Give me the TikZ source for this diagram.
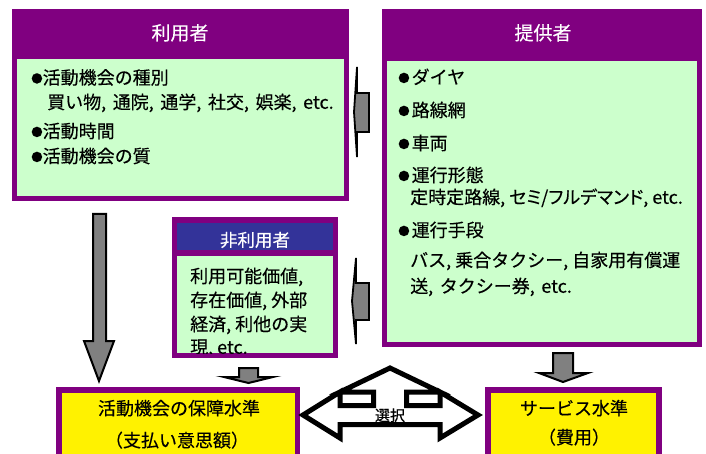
\documentclass[tikz,border=0pt]{standalone}
\usepackage{fontspec}
\setmainfont{Noto Sans CJK JP}[FakeBold=0.3]
\usetikzlibrary{fit}
\definecolor{purp}{RGB}{128,0,128}
\definecolor{lgreen}{RGB}{204,255,204}
\definecolor{hblue}{RGB}{51,51,153}
\definecolor{arrgray}{RGB}{128,128,128}
\newcommand{\bul}{\raisebox{1.5pt}{\fontsize{11.5}{11.5}\selectfont ●}}
\newcommand{\fsz}[1]{\fontsize{#1}{#1}\selectfont}
\newcommand{\csp}{\hspace{6.6pt}}
\tikzset{
  purplebox/.style={fill=purp, draw=none, inner sep=0pt, rectangle},
  greenbox/.style={fill=lgreen, draw=none, inner sep=0pt, rectangle},
  bluebox/.style={fill=hblue, draw=none, inner sep=0pt, rectangle},
  yellowbox/.style={fill=yellow, draw=none, inner sep=0pt, rectangle},
  headtxt/.style={text=white, inner sep=0pt, anchor=base, font=\fsz{19}},
  bodytxt/.style={text=black, inner sep=0pt, anchor=base west, font=\fsz{18}},
  ctrtxt/.style={text=black, inner sep=0pt, anchor=base, font=\fsz{18}},
  grayarrow/.style={fill=arrgray, draw=black, line width=2pt, line join=miter},
  selarrow/.style={fill=white, draw=black, line width=5pt, line join=miter}
}
\begin{document}
\begin{tikzpicture}[x=1pt,y=-1pt]
\useasboundingbox (0,0) rectangle (706,454);
\fill[white] (0,0) rectangle (706,454);

% --- 利用者 box
\node[purplebox, fit={(12,9) (349,201)}] (user) {};
\node[greenbox, fit={(17,59) (344,196)}] (userbody) {};
\node[headtxt] (userhead) at (180,40) {利用者};
\node[bodytxt] (u1) at (31,84.3) {\bul 活動機会の種別};
\node[bodytxt] (u2) at (47,108.8) {買い物,\csp 通院,\csp 通学,\csp 社交,\csp 娯楽,\csp etc.};
\node[bodytxt] (u3) at (31,137.8) {\bul 活動時間};
\node[bodytxt] (u4) at (31,162.8) {\bul 活動機会の質};

% --- 提供者 box
\node[purplebox, fit={(382,9) (702,347)}] (prov) {};
\node[greenbox, fit={(387,61) (697,342)}] (provbody) {};
\node[headtxt] (provhead) at (543,40) {提供者};
\node[bodytxt] (p1) at (398,83.8) {\bul\hspace{2pt}ダイヤ};
\node[bodytxt] (p2) at (398,116.8) {\bul\hspace{2pt}路線網};
\node[bodytxt] (p3) at (398,149.8) {\bul\hspace{2pt}車両};
\node[bodytxt] (p4) at (398,181.8) {\bul\hspace{2pt}運行形態};
\node[bodytxt] (p5) at (410,203.8) {\addfontfeature{RawFeature=+palt}定時定路線,\ セミ/フルデマンド,\ etc.};
\node[bodytxt] (p6) at (398,236.8) {\bul\hspace{2pt}運行手段};
\node[bodytxt] (p7) at (410,266.8) {バス,\ 乗合タクシー,\ 自家用有償運};
\node[bodytxt] (p8) at (410,292.8) {送,\csp タクシー券,\csp etc.};

% --- 非利用者 box
\node[purplebox, fit={(172,217) (338,358)}] (nonuser) {};
\node[bluebox, fit={(177,223) (333,250)}] (nonhead) {};
\node[greenbox, fit={(177,256) (333,353)}] (nonbody) {};
\node[headtxt, font=\fsz{17.5}] (nonheadtxt) at (255,246.5) {非利用者};
\begin{scope}
\clip (177,256) rectangle (333,353);
\node[bodytxt] (n1) at (190,282.8) {利用可能価値,};
\node[bodytxt] (n2) at (190,306.8) {存在価値,\ 外部};
\node[bodytxt] (n3) at (190,330.8) {経済,\ 利他の実};
\node[bodytxt] (n4) at (190,353.8) {現,\ etc.};
\end{scope}

% --- bottom boxes
\node[purplebox, fit={(56,387) (300,460)}] (wtp) {};
\node[yellowbox, fit={(62,393) (295,460)}] (wtpin) {};
\node[ctrtxt] (w1) at (179,415) {活動機会の保障水準};
\node[ctrtxt] (w2) at (177,447) {（支払い意思額）};

\node[purplebox, fit={(485,387) (662,460)}] (svc) {};
\node[yellowbox, fit={(491,393) (656,460)}] (svcin) {};
\node[ctrtxt] (s1) at (574,415) {サービス水準};
\node[ctrtxt] (s2) at (574,444) {（費用）};

% --- gray block arrows
\draw[grayarrow] (93,214) -- (106,214) -- (106,341) -- (114,341) -- (99,381) -- (84,341) -- (93,341) -- cycle;
\draw[grayarrow] (239,368) -- (258,368) -- (258,377) -- (273,377) -- (248.5,383) -- (224,377) -- (239,377) -- cycle;
\draw[grayarrow] (553,353) -- (573,353) -- (573,373) -- (588,373) -- (563,382) -- (539,373) -- (553,373) -- cycle;
\draw[grayarrow, line width=1.8pt] (354,112) -- (357,67) -- (357,93) -- (369,93) -- (369,132) -- (357,132) -- (357,157) -- cycle;
\draw[grayarrow, line width=1.8pt] (352,301) -- (356,258) -- (356,283) -- (369,283) -- (369,320) -- (356,320) -- (356,344) -- cycle;

% --- selection arrow
\draw[selarrow] (303,415) -- (340,392) -- (340,405.5) -- (373.5,405.5) -- (373.5,392) -- (340,392)
  -- (390,368) -- (440,392) -- (406.5,392) -- (406.5,405.5) -- (440,405.5) -- (440,392)
  -- (478,415) -- (440,438) -- (440,424.5) -- (340,424.5) -- (340,438) -- cycle;
\node[ctrtxt, font=\fsz{15}] (sel) at (390,421) {選択};
\end{tikzpicture}
\end{document}
